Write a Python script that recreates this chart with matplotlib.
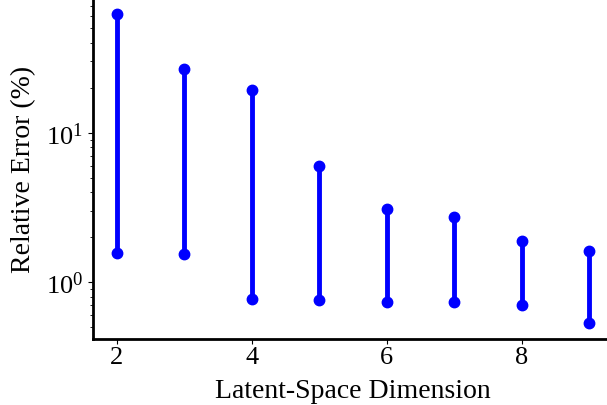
import matplotlib
matplotlib.use("Agg")
import matplotlib.pyplot as plt

plt.rcParams['font.family'] = ['Liberation Serif', 'DejaVu Serif']
plt.rcParams['mathtext.fontset'] = 'stix'

# latent dimension vs min / max relative error (%)
dims = [2, 3, 4, 5, 6, 7, 8, 9]
err_min = [1.57, 1.55, 0.77, 0.76, 0.74, 0.74, 0.70, 0.53]
err_max = [61.9, 26.7, 19.2, 5.98, 3.11, 2.71, 1.89, 1.62]

fig = plt.figure(figsize=(6.07, 4.06), dpi=100)
ax = fig.add_axes([0.153, 0.163, 0.857, 0.837])

for d, lo, hi in zip(dims, err_min, err_max):
    ax.plot([d, d], [lo, hi], color='blue', lw=3.5, marker='o', ms=7.5)

ax.set_yscale('log')
ax.spines['top'].set_visible(False)
ax.spines['right'].set_visible(False)
ax.spines['left'].set_linewidth(2)
ax.spines['bottom'].set_linewidth(2)
ax.tick_params(labelsize=19)
ax.tick_params(axis='x', pad=2)
ax.set_xlabel('Latent-Space Dimension', fontsize=20, labelpad=7)
ax.set_ylabel('Relative Error (%)', fontsize=20, labelpad=7)

fig.savefig('out.png', dpi=100)
